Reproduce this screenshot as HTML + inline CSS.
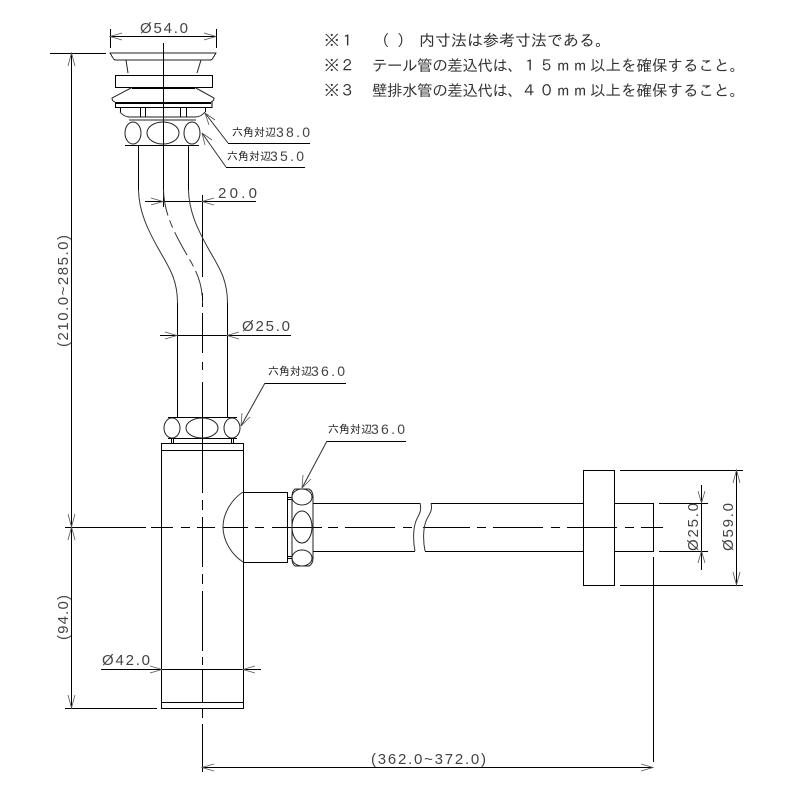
<!DOCTYPE html>
<html><head><meta charset="utf-8"><style>
html,body{margin:0;padding:0;background:#fff}
svg{display:block}
text{font-family:"Liberation Sans","IPAGothic",sans-serif;fill:#444;font-size:15px}
.j{font-family:"IPAGothic","Noto Sans CJK JP",sans-serif;font-size:15.5px;fill:#333}
.l{font-family:"IPAGothic","Noto Sans CJK JP",sans-serif;font-size:11px;fill:#222}
.d{font-size:14px}
.a{stroke:#555;stroke-width:.8;fill:none}
.g{stroke:#333;stroke-width:1;fill:none}
</style></head><body>
<svg width="800" height="800" viewBox="0 0 800 800" xmlns="http://www.w3.org/2000/svg">
<rect width="800" height="800" fill="#fff"/>
<g fill="none" stroke="#000" stroke-width="1" shape-rendering="crispEdges">
<path d="M110.5 29V48M216.5 29V48M110 36.5H216"/>
<path d="M50 53.5H106M71.5 53V708M65 708.5H157"/>
<path d="M145 201.5H256M163.5 190V207M160 335.5H291M101 669.5H261M202 767.5H653M653.5 557V762"/>
<path d="M620 470.5H743M620 585.5H743M659 503.5H708M659 551.5H708M701.5 485V570M736.5 470V585"/>
<path d="M228 143.5H310M226 167.5H305M265 383.5H346M327 441.5H406"/>
<path d="M163.5 43V190"/>
<path d="M202.5 195V277M202.5 293V307M202.5 313V353M202.5 362V370M202.5 382V493M202.5 500V510M202.5 517V567M202.5 574V584M202.5 591V651M202.5 657V665M202.5 670V702M202.5 708V718M202.5 724V772"/>
<path d="M65 527.5H146M151 527.5H173M181 527.5H190M197 527.5H215M223 527.5H248M255 527.5H264M272 527.5H322M328 527.5H338M345 527.5H395M403 527.5H412M423 527.5H470M477 527.5H486M493 527.5H543M551 527.5H560M567 527.5H617M625 527.5H634M641 527.5H663"/>
<path d="M115.5 75.5H212.5V87.5H115.5Z"/>
<path d="M115 102.5H211M132 87.5H195M132 88.5H195M115 103.5H211" />
<path d="M115.5 102V107.5H212V102M120.5 107.5V112M205.5 107V112"/>
<path d="M140.5 107V117M145.5 107V117M180.5 107V117M186.5 107V117"/>
<path d="M125 145.5H199M138.5 145V190M188.5 145V190"/>
<path d="M177.5 303V417M227.5 303V417"/>
<path d="M171.5 438V443M173.5 438V443M231.5 438V443M233.5 438V443M168 417.5H237M168 438.5H237"/>
<path d="M161.5 443.5H243.5V708.5H161.5ZM161 450.5H244M161 702.5H244"/>
<path d="M243.5 450V492M243.5 562V702M243 492.5H287.5V562.5H243M287.5 492V563M287 497.5H292M287 499.5H292M287 556.5H292M287 558.5H292"/>
<path d="M313 503.5H420M313 551.5H415M431 503.5H583M425 551.5H583"/>
<path d="M614 503.5H653.5V551.5H614M583.5 470.5H614.5V585.5H583.5Z"/>
</g>
<g fill="none" stroke="#222" stroke-width="1">
<path d="M110 53H216L213 58Q212 60 210 60H116Q114 60 113 58Z" shape-rendering="crispEdges"/>
<path d="M126 60L128 73M201 60L197 73"/>
<path d="M132 87.5L112 98Q112 101 115 102M195 87.5L214 98Q214 101 211 102"/>
<path d="M120 112Q124 117 130 117H195Q201 117 205 112"/>
<path d="M129 120H196"/>
<ellipse cx="133" cy="133" rx="8" ry="11"/>
<ellipse cx="163" cy="133" rx="16" ry="11"/>
<ellipse cx="192" cy="133" rx="8" ry="11"/>
<ellipse cx="172" cy="428" rx="8" ry="10"/>
<ellipse cx="202" cy="428" rx="16" ry="10"/>
<ellipse cx="232" cy="428" rx="8" ry="10"/>
<ellipse cx="302" cy="497" rx="10" ry="8"/>
<ellipse cx="302" cy="527" rx="10" ry="16"/>
<ellipse cx="302" cy="558" rx="10" ry="8"/>
<path d="M295 489H309Q313 491 313 497V558Q313 564 309 566H295Q292 564 292 558V497Q292 491 295 489Z"/>
</g>
<g class="g">
<path d="M243 492C232 499 223 513 223 527C223 541 232 555 243 562"/>
<path d="M138.5 190C139 212 148 230 158 248C168 266 177.5 278 177.5 303"/>
<path d="M188.5 190C189 212 198 230 208 248C218 266 227.5 278 227.5 303"/>
<path d="M163.5 190C164 212 173 230 183 248C193 266 202.5 278 202.5 303" stroke-dasharray="26 5 8 5"/>
<path d="M420 503C422 511 419 514 416 521C413 529 413 541 415 551"/>
<path d="M431 503C433 511 429 514 426 521C423 529 423 541 425 551"/>
<path d="M205 113L228 143M202 133L226 167M241 426L265 383M302 488L327 441"/>
</g>
<g class="a">
<path d="M122 33L110 36.5L122 40M204 33L216 36.5L204 40"/>
<path d="M68 66L71.5 53L75 66M68 514L71.5 527L75 514M68 540L71.5 527L75 540M68 695L71.5 708L75 695"/>
<path d="M151 198L163 201.5L151 205M214 198L202 201.5L214 205"/>
<path d="M165 332L177 335.5L165 339M239 332L227 335.5L239 339"/>
<path d="M150 666L162 669.5L150 673M255 666L243 669.5L255 673"/>
<path d="M214 764L202 767.5L214 771M641 764L653 767.5L641 771"/>
<path d="M698 491L701.5 503L705 491M698 563L701.5 551L705 563"/>
<path d="M733 483L736.5 470L740 483M733 572L736.5 585L740 572"/>
<path d="M205 113L209 125M205 113L215 120M202 133L205 145M202 133L212 140M241 426L242 413M241 426L250 417M302 488L303 475M302 488L311 479"/>
</g>
<text x="140" y="33" textLength="48">Ø54.0</text>
<text x="218" y="198" textLength="39">20.0</text>
<text x="242" y="331" textLength="48">Ø25.0</text>
<text x="102" y="665" textLength="48">Ø42.0</text>
<text x="371" y="764" textLength="115">(362.0~372.0)</text>
<text transform="translate(68,347) rotate(-90)" textLength="112">(210.0~285.0)</text>
<text transform="translate(68,640) rotate(-90)" textLength="45">(94.0)</text>
<text transform="translate(698,551) rotate(-90)" textLength="48">Ø25.0</text>
<text transform="translate(733,551) rotate(-90)" textLength="48">Ø59.0</text>
<text class="l" x="232" y="136">六角対辺</text><text class="d" x="276" y="137" textLength="34">38.0</text>
<text class="l" x="227" y="160">六角対辺</text><text class="d" x="270" y="161" textLength="34">35.0</text>
<text class="l" x="268" y="375">六角対辺</text><text class="d" x="311" y="376" textLength="34">36.0</text>
<text class="l" x="328" y="433">六角対辺</text><text class="d" x="371" y="434" textLength="34">36.0</text>
<text class="j" x="324" y="46">※１</text>
<text class="j" x="374" y="46">（</text><text class="j" x="397" y="46">）</text>
<text class="j" x="419" y="46" style="font-size:16px">内寸法は参考寸法である。</text>
<text class="j" x="324" y="71">※２</text>
<text class="j" x="372" y="71" textLength="151">テール管の差込代は、</text>
<text class="j" x="522" y="71" textLength="66">１５ｍｍ</text>
<text class="j" x="590" y="71" textLength="155">以上を確保すること。</text>
<text class="j" x="324" y="96">※３</text>
<text class="j" x="372" y="96" textLength="151">壁排水管の差込代は、</text>
<text class="j" x="522" y="96" textLength="66">４０ｍｍ</text>
<text class="j" x="590" y="96" textLength="155">以上を確保すること。</text>
</svg>
</body></html>
